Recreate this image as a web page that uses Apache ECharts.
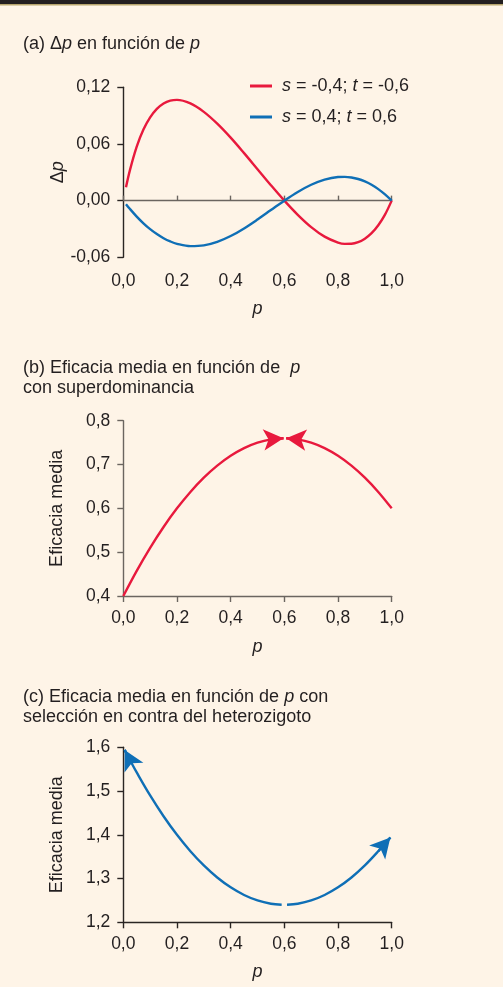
<!DOCTYPE html>
<html>
<head>
<meta charset="utf-8">
<script src="https://cdn.jsdelivr.net/npm/echarts@6/dist/echarts.min.js"></script>
<style>
html,body{margin:0;padding:0;background:#fef4e7;}
#c{width:503px;height:987px;}
</style>
</head>
<body>
<div id="c"></div>
<script>
// ---------- data ----------
// (a) Δp as function of p
var pA    = [0.01, 0.025, 0.05, 0.075, 0.1, 0.125, 0.15, 0.175, 0.2, 0.25, 0.3, 0.35, 0.4, 0.45, 0.5, 0.55, 0.6, 0.65, 0.7, 0.75, 0.8, 0.825, 0.85, 0.875, 0.9, 0.925, 0.95, 0.975, 1.0];
var redA  = [0.0142, 0.0326, 0.0571, 0.0752, 0.0882, 0.0972, 0.1029, 0.1059, 0.1067, 0.1029, 0.0940, 0.0815, 0.0667, 0.0503, 0.0333, 0.0163, 0.0, -0.0150, -0.0280, -0.0381, -0.0444, -0.0458, -0.0457, -0.0440, -0.0403, -0.0345, -0.0261, -0.0148, 0.0];
var blueA = [-0.0037, -0.0089, -0.0169, -0.0240, -0.0302, -0.0354, -0.0398, -0.0432, -0.0457, -0.0482, -0.0474, -0.0437, -0.0375, -0.0294, -0.0200, -0.0100, 0.0, 0.0092, 0.0168, 0.0223, 0.0250, 0.0252, 0.0245, 0.0229, 0.0203, 0.0168, 0.0122, 0.0066, 0.0];
var legendNames  = ['s = -0,4; t = -0,6', 's = 0,4; t = 0,6'];
var legendLabels = ['{i|s} = -0,4; {i|t} = -0,6', '{i|s} = 0,4; {i|t} = 0,6'];

// (b) mean fitness, overdominance (two branches, arrow tip at last point)
var pBLeft  = [0, 0.05, 0.1, 0.15, 0.2, 0.25, 0.3, 0.35, 0.4, 0.45, 0.5, 0.55, 0.597];
var wBLeft  = [0.4, 0.4575, 0.51, 0.5575, 0.6, 0.6375, 0.67, 0.6975, 0.72, 0.7375, 0.75, 0.7575, 0.7600];
var pBRight = [1.0, 0.95, 0.9, 0.85, 0.8, 0.75, 0.7, 0.65, 0.607];
var wBRight = [0.6, 0.6375, 0.67, 0.6975, 0.72, 0.7375, 0.75, 0.7575, 0.7600];

// (c) mean fitness, selection against heterozygote
var pCLeft  = [0.59, 0.55, 0.5, 0.45, 0.4, 0.35, 0.3, 0.25, 0.2, 0.15, 0.1, 0.05, 0.03, 0.005];
var wCLeft  = [1.2401, 1.2425, 1.25, 1.2625, 1.28, 1.3025, 1.33, 1.3625, 1.4, 1.4425, 1.49, 1.5425, 1.5649, 1.594];
var pCRight = [0.61, 0.65, 0.7, 0.75, 0.8, 0.85, 0.9, 0.95, 0.995];
var wCRight = [1.2401, 1.2425, 1.25, 1.2625, 1.28, 1.3025, 1.33, 1.3625, 1.394];

// tick labels
var xTicks  = ['0,0', '0,2', '0,4', '0,6', '0,8', '1,0'];
var yTicksA = ['-0,06', '0,00', '0,06', '0,12'];
var yTicksB = ['0,4', '0,5', '0,6', '0,7', '0,8'];
var yTicksC = ['1,2', '1,3', '1,4', '1,5', '1,6'];

// ---------- styling ----------
var RED = '#e8193d', BLUE = '#0f6fb6', AXG = '#6b6560', AXD = '#2a2523', TXT = '#231f20';
var FONT = '"Liberation Sans", Arial, sans-serif';

function pairs(xs, ys){ return xs.map(function(x,i){ return [x, ys[i]]; }); }
function arrowLine(xs, ys){
  var n = xs.length;
  return [[{coord:[xs[n-2], ys[n-2]]}, {coord:[xs[n-1], ys[n-1]]}]];
}
function richIt(lh){ return {
  i:{fontStyle:'italic', fontWeight:'normal', fontFamily:FONT, fontSize:18, color:TXT, lineHeight:lh||20},
  n:{fontWeight:'normal', fontFamily:FONT, fontSize:18, color:TXT, lineHeight:lh||20}
};}

function xAxisCfg(grid, color, opts){
  var o = {
    type:'value', gridIndex:grid, min:0, max:1, interval:0.2,
    splitLine:{show:false},
    axisLine:{show:true, onZero:false, lineStyle:{color:color, width:1.4}},
    axisTick:{show:true, length:6, lineStyle:{color:color, width:1.4}},
    axisLabel:{show:true, margin:13, fontSize:17.5, fontFamily:FONT, color:TXT,
      formatter:function(v,i){ return xTicks[i]; }},
    name:'{i|p}', nameLocation:'middle', nameGap:41, nameMoveOverlap:false,
    nameTextStyle:{rich:richIt()}
  };
  for (var k in opts) o[k] = opts[k];
  return o;
}
function yAxisCfg(grid, color, mn, mx, iv, labels, name, gap){
  return {
    type:'value', gridIndex:grid, min:mn, max:mx, interval:iv,
    splitLine:{show:false},
    axisLine:{show:true, onZero:false, lineStyle:{color:color, width:1.4}},
    axisTick:{show:true, length:6, lineStyle:{color:color, width:1.4}},
    axisLabel:{margin:13, fontSize:17.5, fontFamily:FONT, color:TXT,
      formatter:function(v,i){ return labels[i]; }},
    name:name, nameLocation:'middle', nameGap:gap, nameMoveOverlap:false,
    nameTextStyle:{rich:richIt(), fontSize:18, fontWeight:'normal', fontFamily:FONT, color:TXT}
  };
}
function lineSeries(xi, yi, xs, ys, color, withArrow, name){
  var s = {
    type:'line', xAxisIndex:xi, yAxisIndex:yi, data:pairs(xs, ys),
    showSymbol:false, symbol:'none', smooth:0.35, clip:false,
    lineStyle:{color:color, width:2.4}, itemStyle:{color:color},
    emphasis:{disabled:true}, silent:true, animation:false
  };
  if (name) s.name = name;
  if (withArrow){
    s.markLine = {
      silent:true, animation:false,
      symbol:['none','arrow'], symbolSize:[16,20],
      label:{show:false},
      lineStyle:{color:color, width:2.4, type:'solid'},
      itemStyle:{color:color},
      emphasis:{disabled:true},
      data:arrowLine(xs, ys)
    };
  }
  return s;
}

var chart = echarts.init(document.getElementById('c'), null, {renderer:'canvas'});
var option = {
  backgroundColor:'#fef4e7',
  animation:false,
  textStyle:{fontFamily:FONT},
  graphic:[
    {type:'rect', shape:{x:0,y:0,width:503,height:4}, style:{fill:'#231f20'}},
    {type:'rect', shape:{x:0,y:4,width:503,height:1.5}, style:{fill:'#b7a56e'}}
  ],
  title:[
    {text:'{n|(a) Δ}{i|p}{n| en función de }{i|p}', left:23, top:34, padding:0,
     textStyle:{rich:richIt(), fontWeight:'normal'}},
    {text:'{n|(b) Eficacia media en función de  }{i|p}\n{n|con superdominancia}', left:23, top:358, padding:0,
     textStyle:{rich:richIt(), fontWeight:'normal'}},
    {text:'{n|(c) Eficacia media en función de }{i|p}{n| con}\n{n|selección en contra del heterozigoto}', left:23, top:687, padding:0,
     textStyle:{rich:richIt(), fontWeight:'normal'}}
  ],
  legend:{
    data:legendNames, orient:'vertical', left:245, top:72,
    icon:'rect', itemWidth:22, itemHeight:3, itemGap:13,
    formatter:function(n){ return legendLabels[legendNames.indexOf(n)]; },
    textStyle:{fontFamily:FONT, fontSize:18, color:TXT, padding:[0,0,0,5], rich:richIt()},
    selectedMode:false
  },
  grid:[
    {left:123.3, top:87.3, width:268.4, height:170},
    {left:123.3, top:420.7, width:268.4, height:175.3},
    {left:123.3, top:747.3, width:268.4, height:175}
  ],
  xAxis:[
    xAxisCfg(0, AXG, {axisLine:{show:false, onZero:false}, axisTick:{show:false},
      axisLabel:{show:true, margin:15, fontSize:17.5, fontFamily:FONT, color:TXT,
        formatter:function(v,i){ return xTicks[i]; }}, nameGap:42}),
    xAxisCfg(0, AXG, {axisLine:{show:true, onZero:true, lineStyle:{color:AXG, width:1.4}},
      axisTick:{show:true, length:5, lineStyle:{color:AXG, width:1.4}},
      axisLabel:{show:false}, name:''}),
    xAxisCfg(1, AXG, {nameGap:41}),
    xAxisCfg(2, AXD, {nameGap:40})
  ],
  yAxis:[
    yAxisCfg(0, AXD, -0.06, 0.12, 0.06, yTicksA, '{n|Δ}{i|p}', 55),
    yAxisCfg(1, AXG, 0.4, 0.8, 0.1, yTicksB, 'Eficacia media', 57),
    yAxisCfg(2, AXD, 1.2, 1.6, 0.1, yTicksC, 'Eficacia media', 57)
  ],
  series:[
    lineSeries(0, 0, pA, redA, RED, false, legendNames[0]),
    lineSeries(0, 0, pA, blueA, BLUE, false, legendNames[1]),
    lineSeries(2, 1, pBLeft, wBLeft, RED, true),
    lineSeries(2, 1, pBRight, wBRight, RED, true),
    lineSeries(3, 2, pCLeft, wCLeft, BLUE, true),
    lineSeries(3, 2, pCRight, wCRight, BLUE, true)
  ]
};
chart.setOption(option);
</script>
</body>
</html>
